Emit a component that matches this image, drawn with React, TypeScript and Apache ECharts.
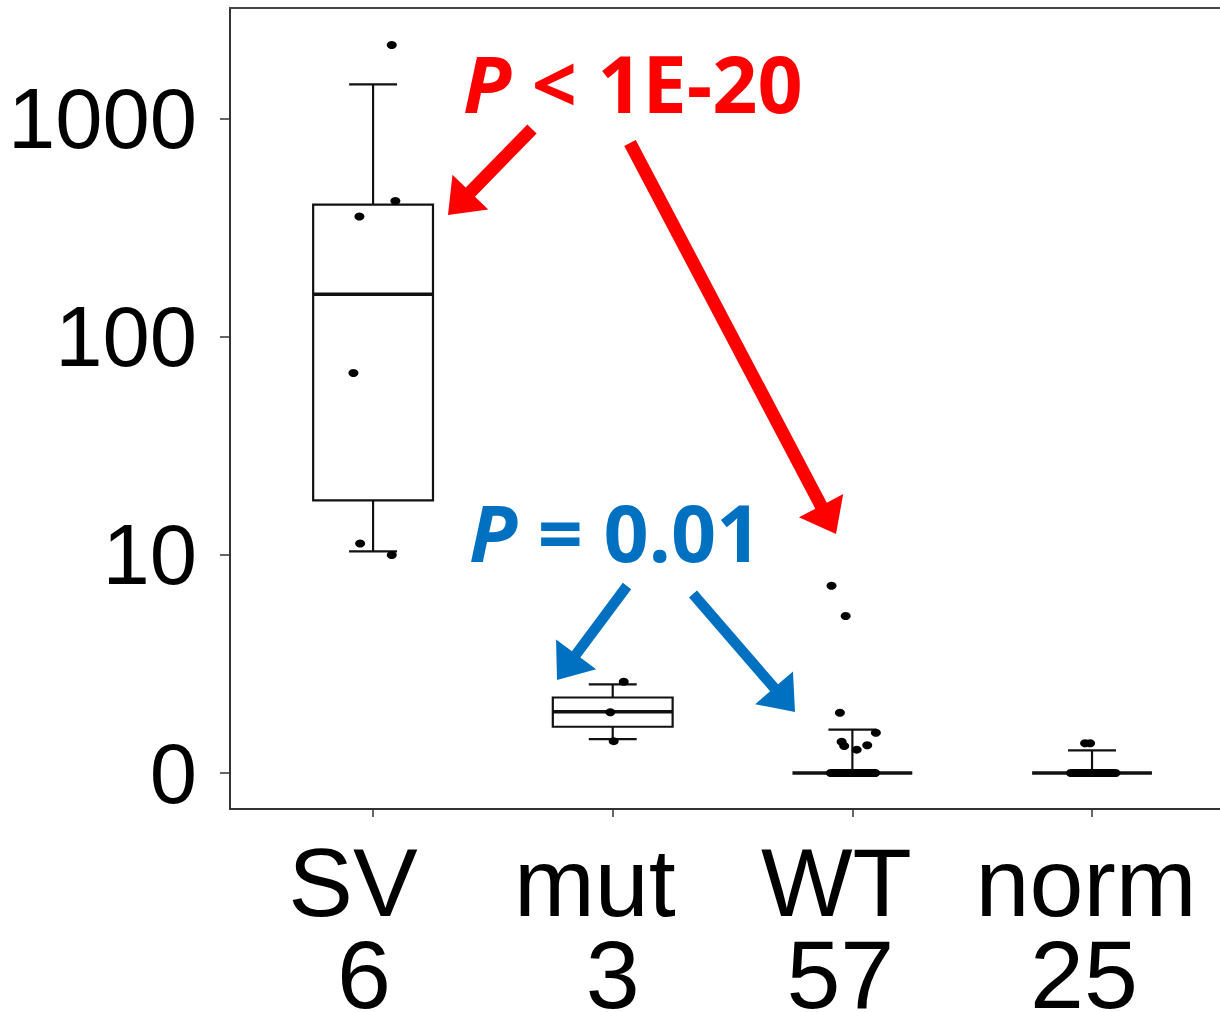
import React, { useEffect, useRef } from "react";
import * as echarts from "echarts";

// ---------- data ----------
const groups = ["SV", "mut", "WT", "norm"];
const groupCounts = ["6", "3", "57", "25"];
const yTickValues = [0, 10, 100, 1000];

// box statistics: [lower whisker, Q1, median, Q3, upper whisker]
const svBox = [9.4, 16.8, 156, 404, 1441];
const mutBox = [0.43, 0.63, 0.91, 1.22, 1.55];
const wtBox = [0, 0, 0, 0, 0.58];
const normBox = [0, 0, 0, 0, 0.27];

// individual observations
const svPoints = [2182, 420, 356, 67.4, 10.3, 9.0];
const mutPoints = [1.62, 0.9, 0.4];
const wtPoints = [
  6.23, 4.25, 0.89, 0.53, 0.39, 0.33, 0.28, 0.34,
  0, 0, 0, 0, 0, 0, 0, 0, 0, 0, 0, 0, 0, 0, 0, 0, 0, 0, 0, 0, 0, 0, 0, 0,
];
const normPoints = [
  0.37, 0.37,
  0, 0, 0, 0, 0, 0, 0, 0, 0, 0, 0, 0, 0, 0, 0, 0, 0, 0, 0, 0, 0, 0,
];

// horizontal jitter of the points (category units)
const svJitter = [0.078, 0.093, -0.057, -0.082, -0.054, 0.078];
const mutJitter = [0.046, -0.01, 0.004];
const wtJitter = [
  -0.087, -0.028, -0.052, 0.098, -0.045, -0.034, 0.018, 0.062,
  -0.09, -0.081, -0.073, -0.066, -0.057, -0.049, -0.041, -0.032, -0.024, -0.017, -0.008, 0.002,
  0.01, 0.019, 0.027, 0.036, 0.044, 0.053, 0.061, 0.07, 0.078, 0.086, 0.092, 0.095,
];
const normJitter = [
  -0.029, -0.008,
  -0.088, -0.078, -0.07, -0.061, -0.052, -0.044, -0.035, -0.027, -0.018, -0.01, -0.002,
  0.007, 0.016, 0.024, 0.033, 0.042, 0.05, 0.059, 0.068, 0.077, 0.087, 0.098,
];

// ---------- layout / style ----------
const AXIS_FONT = '"Liberation Sans", Arial, Helvetica, sans-serif';
const NOTE_FONT = '"Open Sans", "Noto Sans", sans-serif';
const X_MIN = 0.403;
const X_MAX = 4.534;
const Y_MIN = -0.1651;
const Y_MAX = 3.509;
const BOX_W = 0.5;
const CAP_W = 0.2;
const nameShift = [-20, -18, -16, -6];
const countShift = [-9, 0, -12, -8];

const tf = (v: number) => Math.log10(v + 1);
const tickPos = yTickValues.map((v) => (v === 0 ? 0 : Math.log10(v)));

const allBoxes = [svBox, mutBox, wtBox, normBox];
const allPoints = [svPoints, mutPoints, wtPoints, normPoints];
const allJitter = [svJitter, mutJitter, wtJitter, normJitter];

function arrow(tail: number[], tip: number[], w: number, hl: number, hw: number) {
  const dx = tip[0] - tail[0];
  const dy = tip[1] - tail[1];
  const len = Math.hypot(dx, dy);
  const ux = dx / len, uy = dy / len;
  const px = -uy, py = ux;
  const bx = tip[0] - ux * hl, by = tip[1] - uy * hl;
  return [
    [tail[0] + (px * w) / 2, tail[1] + (py * w) / 2],
    [bx + (px * w) / 2, by + (py * w) / 2],
    [bx + px * hw, by + py * hw],
    [tip[0], tip[1]],
    [bx - px * hw, by - py * hw],
    [bx - (px * w) / 2, by - (py * w) / 2],
    [tail[0] - (px * w) / 2, tail[1] - (py * w) / 2],
  ];
}

export default function App() {
  const ref = useRef<HTMLDivElement>(null);
  useEffect(() => {
    if (!ref.current) return;
    const chart = echarts.init(ref.current, undefined, { renderer: "svg" });

    const boxData = allBoxes.map((b, i) => [i + 1, ...b.map(tf)]);
    const pointData: number[][] = [];
    allPoints.forEach((pts, i) => {
      pts.forEach((v, j) => pointData.push([i + 1 + allJitter[i][j], tf(v)]));
    });

    const rich: any = {};
    groups.forEach((g, i) => {
      const pad = (s: number) => (s < 0 ? [0, -2 * s, 0, 0] : [0, 0, 0, 2 * s]);
      rich["n" + i] = {
        fontSize: 97, lineHeight: 92, fontFamily: AXIS_FONT, color: "#000",
        align: "center", padding: pad(nameShift[i]),
      };
      rich["c" + i] = {
        fontSize: 97, lineHeight: 92, fontFamily: AXIS_FONT, color: "#000",
        align: "center", padding: pad(countShift[i]),
      };
    });

    const noteRich = (color: string) => ({
      i: { fontSize: 79, fontWeight: "bold", fontStyle: "italic", fontFamily: NOTE_FONT, fill: color, color },
      b: { fontSize: 79, fontWeight: "bold", fontFamily: NOTE_FONT, fill: color, color },
    });

    const RED = "#FF0000";
    const BLUE = "#0070C0";

    const option: any = {
      animation: false,
      backgroundColor: "#ffffff",
      grid: { left: 230, right: 0, top: 8, bottom: 203, containLabel: false, outerBoundsMode: "none" },
      xAxis: [
        {
          type: "value", min: X_MIN, max: X_MAX, position: "bottom",
          axisLine: { show: true, onZero: false, lineStyle: { color: "#333", width: 2 } },
          axisTick: { show: true, customValues: [1, 2, 3, 4], length: 8, lineStyle: { color: "#333", width: 1.5 } },
          axisLabel: {
            show: true, customValues: [1, 2, 3, 4], margin: 27,
            formatter: (v: number) => {
              const i = Math.round(v) - 1;
              return `{n${i}|${groups[i]}}\n{c${i}|${groupCounts[i]}}`;
            },
            rich,
          },
          splitLine: { show: false },
        },
        {
          type: "value", min: X_MIN, max: X_MAX, position: "top",
          axisLine: { show: true, onZero: false, lineStyle: { color: "#444", width: 2.2 } },
          axisTick: { show: false }, axisLabel: { show: false }, splitLine: { show: false },
        },
      ],
      yAxis: {
        type: "value", min: Y_MIN, max: Y_MAX,
        axisLine: { show: true, onZero: false, lineStyle: { color: "#333", width: 2 } },
        axisTick: { show: true, customValues: tickPos, length: 10, lineStyle: { color: "#333", width: 1.5 } },
        axisLabel: {
          show: true, customValues: tickPos, margin: 33, fontSize: 85, fontFamily: AXIS_FONT, color: "#000",
          formatter: (v: number) => {
            let best = 0;
            tickPos.forEach((p, k) => { if (Math.abs(p - v) < Math.abs(tickPos[best] - v)) best = k; });
            return String(yTickValues[best]);
          },
        },
        splitLine: { show: false },
      },
      series: [
        {
          type: "custom",
          z: 2,
          data: boxData,
          encode: { x: 0, y: [1, 2, 3, 4, 5] },
          renderItem: (params: any, api: any) => {
            const x = api.value(0);
            const lo = api.value(1), q1 = api.value(2), med = api.value(3), q3 = api.value(4), hi = api.value(5);
            const cx = api.coord([x, med])[0];
            const Y = (v: number) => api.coord([x, v])[1];
            const half = api.size([BOX_W, 0])[0] / 2;
            const cap = api.size([CAP_W, 0])[0] / 2;
            const ls = { stroke: "#111", lineWidth: 2.2, fill: null };
            const children: any[] = [];
            if (hi > q3) {
              children.push({ type: "line", shape: { x1: cx, y1: Y(q3), x2: cx, y2: Y(hi) }, style: ls });
              children.push({ type: "line", shape: { x1: cx - cap, y1: Y(hi), x2: cx + cap, y2: Y(hi) }, style: ls });
            }
            if (lo < q1) {
              children.push({ type: "line", shape: { x1: cx, y1: Y(q1), x2: cx, y2: Y(lo) }, style: ls });
              children.push({ type: "line", shape: { x1: cx - cap, y1: Y(lo), x2: cx + cap, y2: Y(lo) }, style: ls });
            }
            if (q3 > q1) {
              children.push({
                type: "rect",
                shape: { x: cx - half, y: Y(q3), width: 2 * half, height: Y(q1) - Y(q3) },
                style: { stroke: "#111", lineWidth: 2.2, fill: "rgba(0,0,0,0)" },
              });
            }
            children.push({
              type: "line", shape: { x1: cx - half, y1: Y(med), x2: cx + half, y2: Y(med) },
              style: { stroke: "#111", lineWidth: 3.4 },
            });
            return { type: "group", children };
          },
        },
        {
          type: "scatter",
          z: 3,
          data: pointData,
          symbol: "circle",
          symbolSize: [10, 8],
          itemStyle: { color: "#000", opacity: 1 },
        },
      ],
      graphic: [
        {
          type: "text", x: 463, y: 82, z: 10,
          style: {
            text: "{i|P}{b| < 1E-20}", rich: noteRich(RED),
            fontSize: 79, fontWeight: "bold", fontFamily: NOTE_FONT, fill: RED,
            align: "left", verticalAlign: "middle",
          },
        },
        {
          type: "text", x: 469, y: 531, z: 10,
          style: {
            text: "{i|P}{b| = 0.01}", rich: noteRich(BLUE),
            fontSize: 79, fontWeight: "bold", fontFamily: NOTE_FONT, fill: BLUE,
            align: "left", verticalAlign: "middle",
          },
        },
        { type: "polygon", z: 10, shape: { points: arrow([532, 129], [448, 215], 13, 32, 25) }, style: { fill: RED } },
        { type: "polygon", z: 10, shape: { points: arrow([630, 143], [836, 534], 13, 32, 25) }, style: { fill: RED } },
        { type: "polygon", z: 10, shape: { points: arrow([627, 586], [557, 680], 10.5, 32, 25) }, style: { fill: BLUE } },
        { type: "polygon", z: 10, shape: { points: arrow([693, 594], [795, 712], 10.5, 32, 25) }, style: { fill: BLUE } },
      ],
    };

    chart.setOption(option);
    return () => chart.dispose();
  }, []);

  return (
    <div
      ref={ref}
      style={{ position: "absolute", left: 0, top: 0, width: 1220, height: 1012, background: "#fff" }}
    />
  );
}
